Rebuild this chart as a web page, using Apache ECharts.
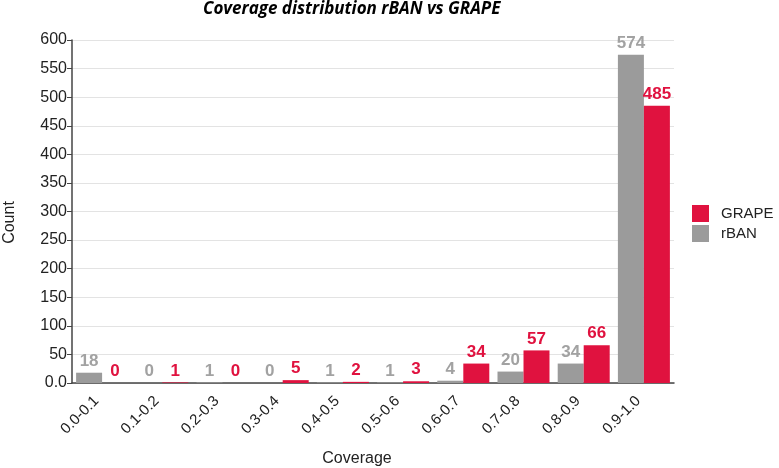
<!DOCTYPE html>
<html><head><meta charset="utf-8">
<script src="https://cdn.jsdelivr.net/npm/echarts@6/dist/echarts.min.js"></script>
<style>html,body{margin:0;padding:0;background:#fff}#c{width:779px;height:468px}</style>
</head><body><div id="c"></div>
<script>
const categories = ['0.0-0.1','0.1-0.2','0.2-0.3','0.3-0.4','0.4-0.5','0.5-0.6','0.6-0.7','0.7-0.8','0.8-0.9','0.9-1.0'];
const rBAN = [18, 0, 1, 0, 1, 1, 4, 20, 34, 574];
const GRAPE = [0, 1, 0, 5, 2, 3, 34, 57, 66, 485];
const yTicks = [0, 50, 100, 150, 200, 250, 300, 350, 400, 450, 500, 550, 600];

const chart = echarts.init(document.getElementById('c'));
const red = '#E0123F', gray = '#9B9B9B';
chart.setOption({
  animation: false,
  title: {
    text: 'Coverage distribution rBAN vs GRAPE',
    left: 203, top: 1, padding: 0,
    textStyle: {fontFamily: 'Open Sans', fontStyle: 'italic', fontWeight: 'bold', fontSize: 17, color: '#000'}
  },
  legend: {
    orient: 'vertical', left: 692, top: 205, padding: 0,
    data: ['GRAPE', 'rBAN'],
    icon: 'rect', itemWidth: 17, itemHeight: 17, itemGap: 3,
    textStyle: {fontFamily: 'Liberation Sans', fontSize: 15, color: '#222', padding: [0, 0, 0, 7]}
  },
  grid: {left: 72, right: 105, top: 40, bottom: 85, containLabel: false, outerBoundsMode: 'none'},
  xAxis: {
    type: 'category', data: categories,
    name: 'Coverage', nameLocation: 'middle', nameGap: 68,
    nameTextStyle: {fontFamily: 'Liberation Sans', fontSize: 16, color: '#222', padding: [0, 32, 0, 0]},
    axisLine: {lineStyle: {color: '#444', width: 1.5}},
    axisTick: {alignWithLabel: true, length: 6, lineStyle: {color: '#444'}},
    axisLabel: {rotate: 45, fontFamily: 'Liberation Sans', fontSize: 15, color: '#222', margin: 10, padding: [0, 8, 0, 0]}
  },
  yAxis: {
    type: 'value', min: 0, max: 600, interval: 50,
    name: 'Count', nameLocation: 'middle', nameGap: 54,
    nameTextStyle: {fontFamily: 'Liberation Sans', fontSize: 16, color: '#222', padding: [0, 22, 0, 0]},
    axisLine: {show: true, lineStyle: {color: '#444', width: 1.5}},
    axisTick: {show: true, length: 5, lineStyle: {color: '#444'}},
    axisLabel: {fontFamily: 'Liberation Sans', fontSize: 16, color: '#222', margin: 5,
      formatter: v => yTicks.includes(v) ? (v === 0 ? '0.0' : String(v)) : ''},
    splitLine: {lineStyle: {color: '#e3e3e3'}}
  },
  series: [
    {name: 'rBAN', type: 'bar', data: rBAN, barWidth: 26, barGap: '0%',
     itemStyle: {color: gray},
     label: {show: true, position: 'top', distance: 3, color: '#A2A2A2', fontWeight: 'bold', fontSize: 17, fontFamily: 'Liberation Sans'}},
    {name: 'GRAPE', type: 'bar', data: GRAPE, barWidth: 26, barGap: '0%',
     itemStyle: {color: red},
     label: {show: true, position: 'top', distance: 3, color: red, fontWeight: 'bold', fontSize: 17, fontFamily: 'Liberation Sans'}}
  ]
});
</script></body></html>
